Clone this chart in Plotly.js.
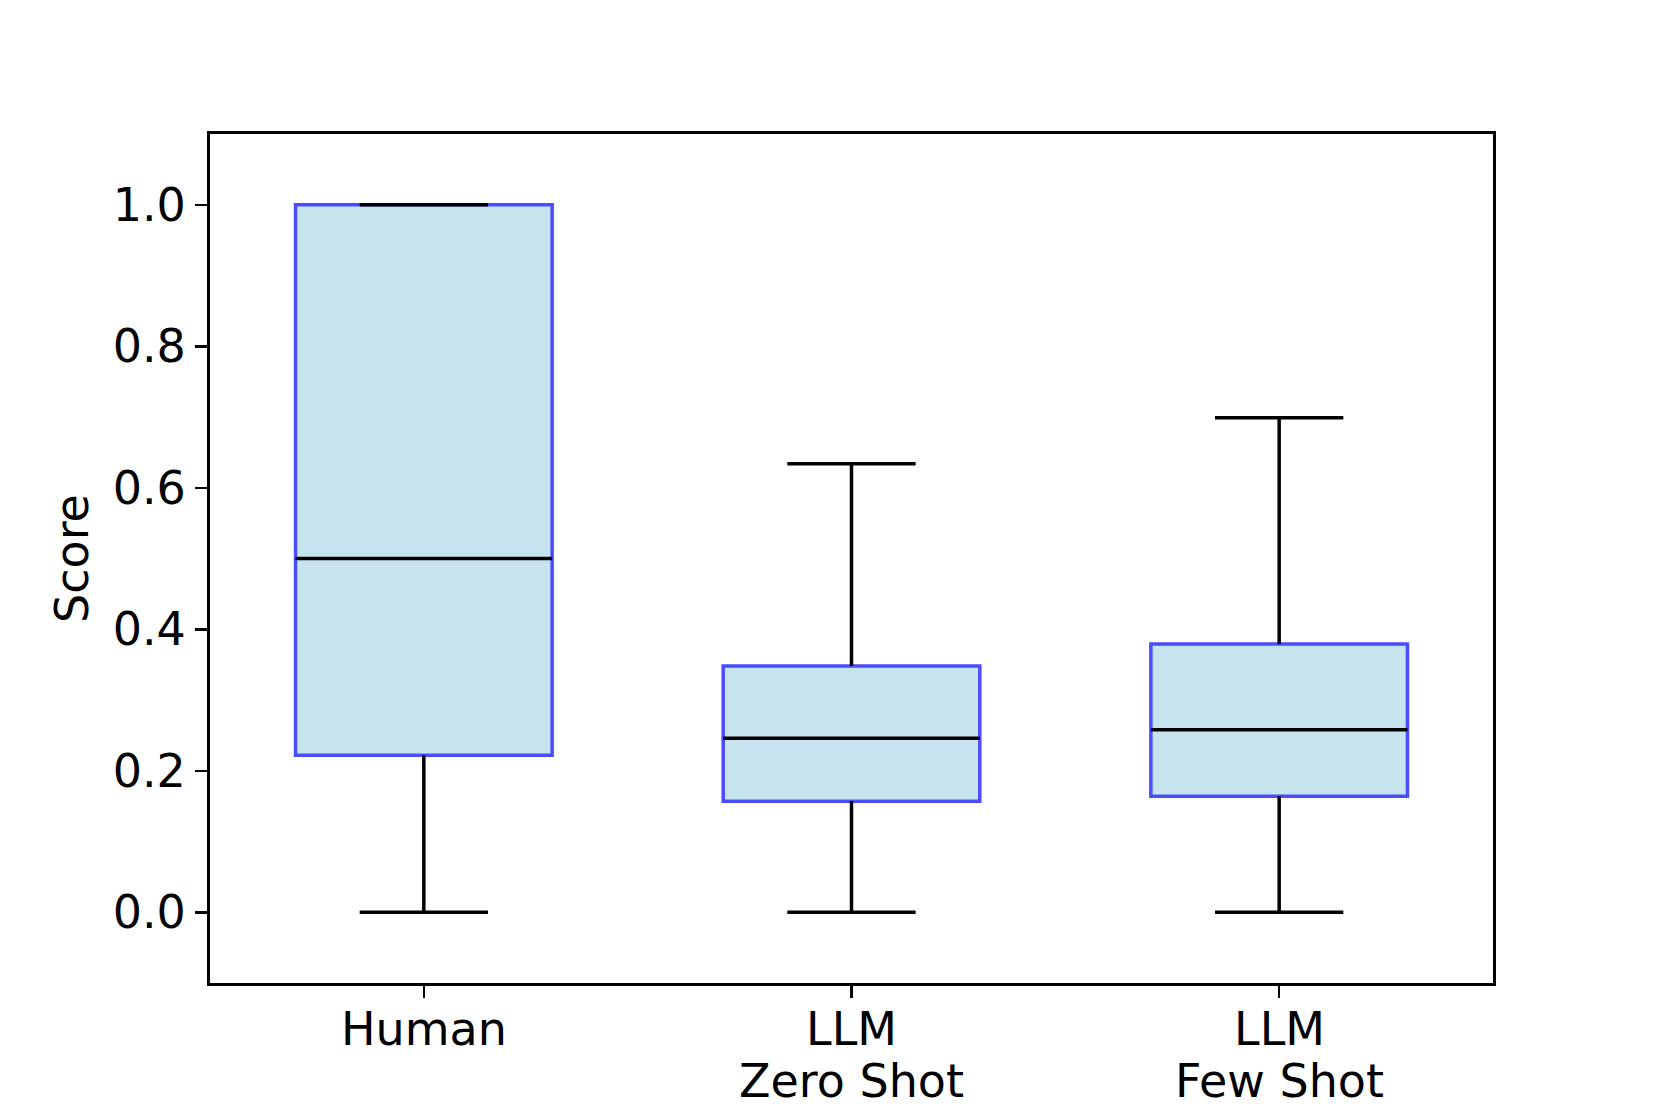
<!DOCTYPE html>
<html>
<head>
<meta charset="utf-8">
<script src="https://cdn.plot.ly/plotly-3.0.1.min.js"></script>
<style>html,body{margin:0;padding:0;background:#fff;}#chart{width:1661px;height:1107px;}</style>
</head>
<body>
<div id="chart"></div>
<script>
// Data
const categories = ["Human", "LLM<br>Zero Shot", "LLM<br>Few Shot"];
const positions = [1, 2, 3];
const lowerWhisker = [0.0, 0.0, 0.0];
const q1 = [0.222, 0.157, 0.164];
const median = [0.5, 0.246, 0.258];
const q3 = [1.0, 0.348, 0.379];
const upperWhisker = [1.0, 0.634, 0.699];
const yTickVals = [0, 0.2, 0.4, 0.6, 0.8, 1.0];
const yTickText = ["0.0", "0.2", "0.4", "0.6", "0.8", "1.0"];

const boxWidth = 0.6;
const capWidth = 0.3;

// Boxes (fill + blue edge)
const boxTrace = {
  type: "bar",
  x: positions,
  base: q1,
  y: q3.map((v, i) => v - q1[i]),
  width: positions.map(() => boxWidth),
  marker: {color: "#c6e4ee", line: {color: "#4c4cff", width: 3.5}},
  hoverinfo: "skip",
  showlegend: false
};

// Whiskers, caps and medians (black)
const lx = [], ly = [];
positions.forEach((p, i) => {
  lx.push(p, p, null); ly.push(q1[i], lowerWhisker[i], null);
  lx.push(p, p, null); ly.push(q3[i], upperWhisker[i], null);
  lx.push(p - capWidth / 2, p + capWidth / 2, null); ly.push(lowerWhisker[i], lowerWhisker[i], null);
  lx.push(p - capWidth / 2, p + capWidth / 2, null); ly.push(upperWhisker[i], upperWhisker[i], null);
  lx.push(p - boxWidth / 2, p + boxWidth / 2, null); ly.push(median[i], median[i], null);
});
const lineTrace = {
  type: "scatter",
  mode: "lines",
  x: lx, y: ly,
  line: {color: "#000000", width: 3.5},
  hoverinfo: "skip",
  showlegend: false
};

const FS = 46;
const font = {family: "DejaVu Sans", size: FS, color: "#000"};

// x tick labels as annotations (controlled line spacing)
const annotations = [];
categories.forEach((c, i) => {
  c.split("<br>").forEach((line, k) => {
    annotations.push({
      x: positions[i], xref: "x", y: 0, yref: "paper",
      text: line, showarrow: false,
      xanchor: "center", yanchor: "middle",
      yshift: -(46 + k * 52),
      font: font
    });
  });
});

const layout = {
  width: 1661, height: 1107,
  paper_bgcolor: "#ffffff", plot_bgcolor: "#ffffff",
  margin: {l: 210, r: 168, t: 134, b: 124, pad: 0},
  font: font,
  showlegend: false,
  annotations: annotations,
  xaxis: {
    range: [0.5, 3.5],
    tickmode: "array",
    tickvals: positions,
    showticklabels: false,
    ticks: "outside", ticklen: 12, tickwidth: 2.5, tickcolor: "#000",
    showgrid: false, zeroline: false,
    showline: true, linecolor: "#000", linewidth: 3, mirror: true
  },
  yaxis: {
    range: [-0.1, 1.1],
    tickmode: "array",
    tickvals: yTickVals,
    ticktext: yTickText,
    ticks: "outside", ticklen: 12, tickwidth: 2.5, tickcolor: "#000",
    showgrid: false, zeroline: false,
    showline: true, linecolor: "#000", linewidth: 3, mirror: true,
    tickfont: font,
    title: {text: "Score", font: font, standoff: 10}
  }
};

Plotly.newPlot("chart", [boxTrace, lineTrace], layout, {displayModeBar: false, staticPlot: true});
</script>
</body>
</html>
